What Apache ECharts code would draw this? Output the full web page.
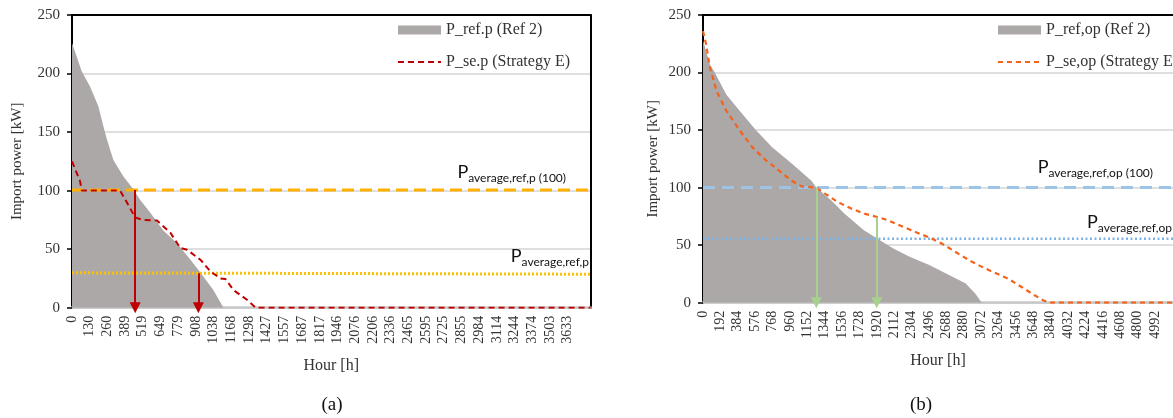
<!DOCTYPE html>
<html><head><meta charset="utf-8">
<script src="https://cdn.jsdelivr.net/npm/echarts@6/dist/echarts.min.js"></script>
<style>html,body{margin:0;padding:0;background:#fff}#c{width:1173px;height:418px}</style>
</head><body><div id="c"></div>
<script>
// ---- tick labels ----
const xTicksA = [0,130,260,389,519,649,779,908,1038,1168,1298,1427,1557,1687,1817,1946,2076,2206,2336,2465,2595,2725,2855,2984,3114,3244,3374,3503,3633];
const xTicksB = [0,192,384,576,768,960,1152,1344,1536,1728,1920,2112,2304,2496,2688,2880,3072,3264,3456,3648,3840,4032,4224,4416,4608,4800,4992];
const xRangeA = [0, 3800];
const xRangeB = [0, 5190];

// ---- (a) peak ----
const refA_h  = [0,71,132,193,230,255,304,377,451,500,574,669,770,868,941,1037,1110];
const refA_kw = [226,202,189,172,155,144,126,112,101,92,81,66,55,41,30,15,0];
const seA_h   = [0,59,72,353,402,463,522,623,721,794,843,941,1015,1088,1125,1184,1285,1346,3800];
const seA_kw  = [125,108,100,100,90,77,75,74.5,64,51,49.5,41,31,25,24.5,15,6.6,0,0];
const avgA100 = [100.5,100.5];
const avgA    = [29.8,28.6];
const arrowsA_h  = [463,926];
const arrowsA_kw = [100.5,29.5];

// ---- (b) off-peak ----
const refB_h  = [0,76,130,257,402,583,763,980,1197,1251,1414,1560,1777,1957,2102,2282,2499,2716,2898,3006,3079];
const refB_kw = [228,207,200,181,167,150,135,121,106,100,89,77.5,63,54,47,40,32.7,24,16.8,8,0];
const seB_h   = [0,33,76,149,257,402,546,691,836,980,1089,1251,1343,1487,1631,1777,1921,2030,2211,2391,2499,2645,2789,2970,3115,3223,3368,3513,3657,3766,3839,5190];
const seB_kw  = [236,225,204.5,184,167,150,135,124,115,106,101,100,95,87.5,82,77.5,74.5,72,66,60,56.7,51,44,35.5,29.8,26,21,13.9,6.7,1.7,0,0];
const avgB100 = [100,100];
const avgB    = [55.5,55.5];
const arrowsB_h  = [1251,1918];
const arrowsB_kw = [100,74];

const pairs = (xs, ys) => xs.map((x, i) => [x, ys[i]]);
const serif = 'Liberation Serif';
const sans = 'Lato';
const GRAY = '#aba8a7';

function xAxisMain(grid, range, ticks, pad) {
  return {
    gridIndex: grid, type: 'value', min: range[0], max: range[1],
    axisLine: {show: true, onZero: false, lineStyle: {color: '#c8c8c8', width: 2.5}},
    axisTick: {show: false}, splitLine: {show: false},
    axisLabel: {customValues: ticks, rotate: 90, margin: 8, fontFamily: serif, fontSize: 14, color: '#333',
      padding: [pad, 0, 0, 0], formatter: v => String(v)},
    name: 'Hour [h]', nameLocation: 'middle', nameGap: 50,
    nameTextStyle: {fontFamily: serif, fontSize: 16, color: '#333'}
  };
}
function yAxisMain(grid, gap) {
  return {
    gridIndex: grid, type: 'value', min: 0, max: 250, interval: 50,
    axisLine: {show: true, lineStyle: {color: '#000', width: 2}},
    axisTick: {show: true, length: 5, lineStyle: {color: '#000', width: 1.5}},
    splitLine: {show: true, lineStyle: {color: '#d4d4d4', width: 1.5}},
    axisLabel: {margin: 12, fontFamily: serif, fontSize: 15, color: '#333'},
    name: 'Import power [kW]', nameLocation: 'middle', nameGap: gap,
    nameTextStyle: {fontFamily: serif, fontSize: 15, color: '#333'}
  };
}
function borderX(grid) {
  return {gridIndex: grid, type: 'value', position: 'top', min: 0, max: 1,
    axisLine: {show: true, onZero: false, lineStyle: {color: '#000', width: 2}},
    axisTick: {show: false}, axisLabel: {show: false}, splitLine: {show: false}};
}
function borderY(grid) {
  return {gridIndex: grid, type: 'value', position: 'right', min: 0, max: 1,
    axisLine: {show: true, onZero: false, lineStyle: {color: '#000', width: 2}},
    axisTick: {show: false}, axisLabel: {show: false}, splitLine: {show: false}};
}
function arrows(hs, ks) {
  return hs.map((h, i) => [{coord: [h, ks[i]]}, {coord: [h, 0]}]);
}
function annot(x, y, align, sub) {
  return {type: 'text', z: 10, style: {x: x, y: y, align: align, verticalAlign: 'bottom',
    text: '{p|P}{s|' + sub + '}',
    rich: {p: {fontFamily: sans, fontSize: 18, fill: '#111'},
           s: {fontFamily: sans, fontSize: 12, fill: '#111', padding: [12, 0, 0, 0]}}}};
}
const hideDot = {opacity: 0, borderWidth: 0};

const option = {
  animation: false,
  backgroundColor: '#fff',
  grid: [
    {left: 72, top: 15, width: 518.5, height: 292.7},
    {left: 703, top: 15, width: 478, height: 287.7}
  ],
  xAxis: [xAxisMain(0, xRangeA, xTicksA, 4), xAxisMain(1, xRangeB, xTicksB, 6), borderX(0), borderX(1)],
  yAxis: [yAxisMain(0, 47), yAxisMain(1, 42), borderY(0)],
  legend: [
    {data: [{name: 'P_ref.p (Ref 2)', icon: 'rect'}, {name: 'P_se.p (Strategy E)', itemStyle: hideDot}],
     left: 392, top: 17, padding: 5, orient: 'vertical', itemWidth: 43, itemHeight: 9, itemGap: 16,
     textStyle: {fontFamily: serif, fontSize: 16, color: '#333'}},
    {data: [{name: 'P_ref,op (Ref 2)', icon: 'rect'}, {name: 'P_se,op (Strategy E)', itemStyle: hideDot}],
     left: 992, top: 17, padding: 5, orient: 'vertical', itemWidth: 43, itemHeight: 9, itemGap: 16,
     textStyle: {fontFamily: serif, fontSize: 16, color: '#333'}}
  ],
  series: [
    {name: 'P_ref.p (Ref 2)', type: 'line', xAxisIndex: 0, yAxisIndex: 0, data: pairs(refA_h, refA_kw),
     symbol: 'none', lineStyle: {width: 0}, itemStyle: {color: GRAY}, areaStyle: {color: GRAY, opacity: 1}, z: 1},
    {name: 'avgA100', type: 'line', xAxisIndex: 0, yAxisIndex: 0, data: pairs(xRangeA, avgA100),
     symbol: 'none', lineStyle: {color: '#ffb000', width: 3, type: [12, 6]}, z: 2},
    {name: 'avgA', type: 'line', xAxisIndex: 0, yAxisIndex: 0, data: pairs(xRangeA, avgA),
     symbol: 'none', lineStyle: {color: '#ffc000', width: 3, type: [2, 2]}, z: 2},
    {name: 'P_se.p (Strategy E)', type: 'line', xAxisIndex: 0, yAxisIndex: 0, data: pairs(seA_h, seA_kw),
     symbol: 'none', itemStyle: {color: '#c00000'}, lineStyle: {color: '#c00000', width: 2, type: [6, 4]}, z: 3,
     markLine: {silent: true, symbol: ['none', 'triangle'], symbolSize: 11,
       lineStyle: {color: '#c00000', width: 2, type: 'solid'}, label: {show: false},
       data: arrows(arrowsA_h, arrowsA_kw)}},

    {name: 'P_ref,op (Ref 2)', type: 'line', xAxisIndex: 1, yAxisIndex: 1, data: pairs(refB_h, refB_kw),
     symbol: 'none', lineStyle: {width: 0}, itemStyle: {color: GRAY}, areaStyle: {color: GRAY, opacity: 1}, z: 1},
    {name: 'avgB100', type: 'line', xAxisIndex: 1, yAxisIndex: 1, data: pairs(xRangeB, avgB100),
     symbol: 'none', lineStyle: {color: '#9dc3e6', width: 3, type: [12, 7]}, z: 2},
    {name: 'avgB', type: 'line', xAxisIndex: 1, yAxisIndex: 1, data: pairs(xRangeB, avgB),
     symbol: 'none', lineStyle: {color: '#7fb2e6', width: 2.5, type: [2, 2.5]}, z: 2},
    {name: 'P_se,op (Strategy E)', type: 'line', xAxisIndex: 1, yAxisIndex: 1, data: pairs(seB_h, seB_kw),
     symbol: 'none', itemStyle: {color: '#f4621c'}, lineStyle: {color: '#f4621c', width: 2.2, type: [5, 4]}, z: 3,
     markLine: {silent: true, symbol: ['none', 'triangle'], symbolSize: 11,
       lineStyle: {color: '#a9d18e', width: 2, type: 'solid'}, label: {show: false},
       data: arrows(arrowsB_h, arrowsB_kw)}}
  ],
  graphic: [
    annot(566, 184, 'right', 'average,ref,p (100)'),
    annot(589, 268, 'right', 'average,ref,p'),
    annot(1153, 179, 'right', 'average,ref,op (100)'),
    annot(1087, 234, 'left', 'average,ref,op'),
    {type: 'text', style: {x: 332, y: 405, align: 'center', verticalAlign: 'middle', text: '(a)',
      fontFamily: serif, fontSize: 19, fill: '#111'}},
    {type: 'text', style: {x: 921, y: 405, align: 'center', verticalAlign: 'middle', text: '(b)',
      fontFamily: serif, fontSize: 19, fill: '#111'}}
  ]
};
const chart = echarts.init(document.getElementById('c'), null, {renderer: 'canvas'});
chart.setOption(option);
</script></body></html>
